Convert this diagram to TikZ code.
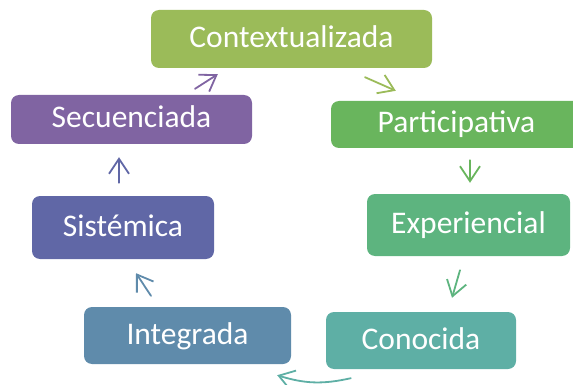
\documentclass[tikz,border=0pt]{standalone}
\usepackage{fontspec}
\setmainfont{Carlito}
\usepackage{tikz}
\usetikzlibrary{arrows.meta}
\usetikzlibrary{calc}

\definecolor{cctx}{HTML}{9BBB59}
\definecolor{cpar}{HTML}{69B55D}
\definecolor{cexp}{HTML}{5DB47F}
\definecolor{ccon}{HTML}{5EAFA5}
\definecolor{cint}{HTML}{5F8BAB}
\definecolor{csis}{HTML}{6067A6}
\definecolor{csec}{HTML}{8064A2}

\begin{document}
\begin{tikzpicture}[x=1pt, y=-1pt,
        box/.style={rounded corners=8pt, text=white, inner sep=0, font=\fontsize{31.5}{33}\selectfont, text height=20pt, text depth=3pt},
        arr/.style={line width=1.8pt, line cap=round, -{Straight Barb[length=15pt, width=20pt, line width=1.8pt]}}]
            \useasboundingbox (0,0) rectangle (573,385);
            \clip (0,0) rectangle (573,385);
            % the seven boxes
            \node[box, fill=cctx, minimum width=281pt, minimum height=58pt] (ctx) at (291.5,39) {Contextualizada};
            \node[box, fill=cpar, minimum width=251pt, minimum height=47pt] (par) at (456.5,124.5) {Participativa};
            \node[box, fill=cexp, minimum width=203pt, minimum height=62pt] (exp) at (468.5,225) {Experiencial};
            \node[box, fill=ccon, minimum width=190pt, minimum height=57pt] (con) at (421,340.5) {Conocida};
            \node[box, fill=cint, minimum width=207pt, minimum height=57pt] (int) at (187.5,335.5) {Integrada};
            \node[box, fill=csis, minimum width=182pt, minimum height=63pt] (sis) at (123,227.5) {Sistémica};
            \node[box, fill=csec, minimum width=241pt, minimum height=49pt] (sec) at (131.5,119.5) {Secuenciada};
            % arrows in the gaps
            \draw[arr, csec] ($(sec.north)+(63.5,-6)$) -- ($(ctx.south west)+(67,6)$);
            \draw[arr, cctx] ($(ctx.south)+(73.5,9)$) -- ($(par.north west)+(65,-10)$);
            \draw[arr, cpar] ($(par.south)+(13.5,12)$) -- ($(exp.north)+(1.5,-11)$);
            \draw[arr, cexp] ($(exp.south)+(-8.5,14)$) -- ($(con.north)+(31,-14)$);
            \draw[arr, ccon] ($(con.south west)+(25,9)$) to[bend left=15] ($(int.south east)+(-14,11)$);
            \draw[arr, cint] ($(int.north)+(-36.5,-11)$) -- ($(sis.south)+(13,14)$);
            \draw[arr, csis] ($(sis.north)+(-4,-13)$) -- ($(sec.south)+(-12.5,13)$);
\end{tikzpicture}
\end{document}
